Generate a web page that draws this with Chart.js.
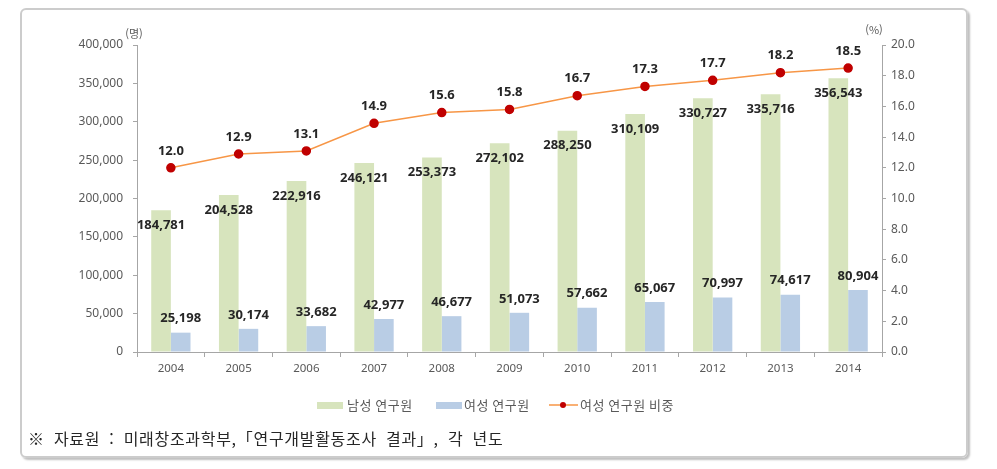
<!DOCTYPE html>
<html lang="ko">
<head>
    <meta charset="UTF-8">
    <title>남성·여성 연구원 수</title>
    <script src="https://cdn.jsdelivr.net/npm/chart.js"></script>
    <style>
        body {
            margin: 0;
            background-color: white;
            font-family: "Noto Sans CJK KR", "Noto Sans", sans-serif;
        }
        .frame {
            position: absolute;
            left: 20px;
            top: 8px;
            width: 944px;
            height: 446px;
            border: 2px solid #cccccc;
            border-radius: 6px;
            box-shadow: 2px 2px 2px rgba(0, 0, 0, 0.25);
        }
        #chart {
            position: absolute;
            left: 0;
            top: 0;
        }
        .source {
            position: absolute;
            left: 28px;
            top: 426px;
            font-size: 16px;
            color: #262626;
            letter-spacing: 0.7px;
            word-spacing: 4px;
            white-space: nowrap;
        }
    </style>
</head>
<body>
<div class="frame"></div>
<canvas id="chart" width="997" height="469"></canvas>
<div class="source">※ 자료원 : 미래창조과학부,「연구개발활동조사 결과」, 각 년도</div>
<script>
    const years = ['2004', '2005', '2006', '2007', '2008', '2009', '2010', '2011', '2012', '2013', '2014'];
    const maleResearchers = [184781, 204528, 222916, 246121, 253373, 272102, 288250, 310109, 330727, 335716, 356543];
    const femaleResearchers = [25198, 30174, 33682, 42977, 46677, 51073, 57662, 65067, 70997, 74617, 80904];
    const femaleShare = [12.0, 12.9, 13.1, 14.9, 15.6, 15.8, 16.7, 17.3, 17.7, 18.2, 18.5];
    const seriesNames = ['남성 연구원', '여성 연구원', '여성 연구원 비중'];

    const green = '#d7e4bd';
    const blue = '#b9cde5';
    const orange = '#f79646';
    const red = '#c00000';
    const axisColor = '#a6a6a6';
    const tickColor = '#595959';

    // labels drawn next to each mark
    const valueLabels = {
        id: 'valueLabels',
        afterDatasetsDraw(chart) {
            const ctx = chart.ctx;
            ctx.save();
            ctx.font = 'bold 13px "Noto Sans", sans-serif';
            ctx.fillStyle = '#262626';
            ctx.textAlign = 'center';
            ctx.textBaseline = 'middle';
            chart.data.datasets.forEach((ds, i) => {
                const meta = chart.getDatasetMeta(i);
                meta.data.forEach((el, j) => {
                    const v = ds.data[j];
                    let text, dy;
                    if (i === 2) {
                        text = v.toFixed(1);
                        dy = -17;
                    } else if (i === 0) {
                        text = v.toLocaleString('en-US');
                        dy = 15;
                    } else {
                        text = v.toLocaleString('en-US');
                        dy = -14;
                    }
                    ctx.fillText(text, el.x, el.y + dy);
                });
            });
            ctx.restore();
        }
    };

    // units and legend
    const extras = {
        id: 'extras',
        afterDraw(chart) {
            const ctx = chart.ctx;
            const area = chart.chartArea;
            ctx.save();
            ctx.fillStyle = tickColor;
            ctx.font = '11px "Noto Sans CJK KR", sans-serif';
            ctx.textAlign = 'center';
            ctx.textBaseline = 'middle';
            ctx.fillText('(명)', area.left - 3, area.top - 11);
            ctx.fillText('(%)', area.right - 8, area.top - 15);

            // legend
            const y = 405;
            ctx.font = '13px "Noto Sans CJK KR", sans-serif';
            ctx.letterSpacing = '0.5px';
            ctx.textAlign = 'left';
            ctx.fillStyle = green;
            ctx.fillRect(317, y - 3, 26, 7);
            ctx.fillStyle = tickColor;
            ctx.fillText(seriesNames[0], 347, y);
            ctx.fillStyle = blue;
            ctx.fillRect(436, y - 3, 26, 7);
            ctx.fillStyle = tickColor;
            ctx.fillText(seriesNames[1], 464, y);
            ctx.strokeStyle = orange;
            ctx.lineWidth = 1.5;
            ctx.beginPath();
            ctx.moveTo(549, y);
            ctx.lineTo(578, y);
            ctx.stroke();
            ctx.fillStyle = red;
            ctx.beginPath();
            ctx.arc(563, y, 3, 0, Math.PI * 2);
            ctx.fill();
            ctx.fillStyle = tickColor;
            ctx.fillText(seriesNames[2], 580, y);
            ctx.restore();
        }
    };

    const ctx = document.getElementById('chart').getContext('2d');
    new Chart(ctx, {
        type: 'bar',
        data: {
            labels: years,
            datasets: [{
                label: seriesNames[0],
                data: maleResearchers,
                backgroundColor: green,
                yAxisID: 'y',
                order: 1,
                categoryPercentage: 0.58,
                barPercentage: 1.0
            }, {
                label: seriesNames[1],
                data: femaleResearchers,
                backgroundColor: blue,
                yAxisID: 'y',
                order: 1,
                categoryPercentage: 0.58,
                barPercentage: 1.0
            }, {
                type: 'line',
                label: seriesNames[2],
                data: femaleShare,
                borderColor: orange,
                borderWidth: 1.5,
                pointBackgroundColor: red,
                pointBorderColor: red,
                pointRadius: 4,
                yAxisID: 'y1',
                order: 0
            }]
        },
        options: {
            responsive: false,
            animation: false,
            devicePixelRatio: 1,
            layout: {
                padding: { top: 45, left: 0, right: 0, bottom: 0 }
            },
            plugins: {
                legend: { display: false },
                tooltip: { enabled: false }
            },
            scales: {
                x: {
                    grid: {
                        drawOnChartArea: false,
                        drawTicks: true,
                        tickLength: 5,
                        color: axisColor
                    },
                    border: { color: axisColor },
                    ticks: {
                        color: tickColor,
                        padding: 5,
                        font: { size: 11.5, family: '"Noto Sans", sans-serif' }
                    },
                    afterFit(scale) {
                        scale.height = 117;
                    }
                },
                y: {
                    position: 'left',
                    min: 0,
                    max: 400000,
                    grid: {
                        drawOnChartArea: false,
                        tickLength: 4,
                        color: axisColor
                    },
                    border: { color: axisColor },
                    ticks: {
                        stepSize: 50000,
                        color: tickColor,
                        padding: 10,
                        font: { size: 12, family: '"Noto Sans", sans-serif' },
                        callback: v => v.toLocaleString('en-US')
                    },
                    afterFit(scale) {
                        scale.width = 137;
                    }
                },
                y1: {
                    position: 'right',
                    min: 0,
                    max: 20,
                    grid: {
                        drawOnChartArea: false,
                        tickLength: 4,
                        color: axisColor
                    },
                    border: { color: axisColor },
                    ticks: {
                        stepSize: 2,
                        color: tickColor,
                        padding: 5,
                        font: { size: 12, family: '"Noto Sans", sans-serif' },
                        callback: v => v.toFixed(1)
                    },
                    afterFit(scale) {
                        scale.width = 115;
                    }
                }
            }
        },
        plugins: [valueLabels, extras]
    });
</script>
</body>
</html>
